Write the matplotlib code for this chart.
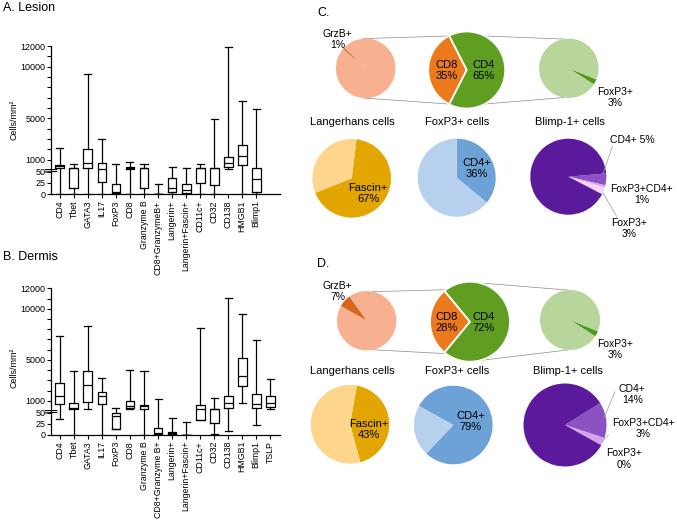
import numpy as np
import matplotlib
matplotlib.use('Agg')
import matplotlib.pyplot as plt
import matplotlib.transforms as mtransforms

plt.rcParams['font.family'] = ['Liberation Sans', 'DejaVu Sans']

# ---- box plot data, cells/mm2 (min, Q1, median, Q3, max) ----
lesion_labels = ['CD4', 'Tbet', 'GATA3', 'IL17', 'FoxP3', 'CD8', 'Granzyme B',
                 'CD8+GranzymeB+', 'Langerin+', 'Langerin+Fascin+', 'CD11c+',
                 'CD32', 'CD138', 'HMGB1', 'Blimp1']
lesion_min = [0, 0, 0, 0, 0, 0, 0, 0, 0, 0, 0, 1, 150, 0, 0]
lesion_q1 = [200, 13, 254, 27, 1.5, 92, 14, 0, 5, 1.5, 24, 20, 340, 470, 5]
lesion_med = [440, 170, 740, 125, 5, 200, 180, 0, 13, 9, 180, 240, 660, 1350, 33]
lesion_q3 = [520, 180, 2060, 680, 23, 290, 190, 0.5, 36, 23, 190, 250, 1240, 2400, 190]
lesion_max = [2130, 640, 9300, 3000, 580, 770, 640, 22, 285, 255, 640, 4950, 11950, 6700, 5900]

dermis_labels = ['CD4', 'Tbet', 'GATA3', 'IL17', 'FoxP3', 'CD8', 'Granzyme B',
                 'CD8+Granzyme B+', 'Langerin+', 'Langerin+Fascin+', 'CD11c+',
                 'CD32', 'CD138', 'HMGB1', 'Blimp1', 'TSLP']
dermis_min = [36, 0, 210, 0, 12, 178, 0, 0, 0, 0, 33, 1.5, 8.6, 800, 22.7, 243]
dermis_q1 = [674, 178, 902, 674, 12.5, 341, 210, 1.6, 1.6, 0, 33.6, 26.6, 341, 2470, 308, 406]
dermis_med = [1457, 308, 2600, 1457, 42, 537, 472, 4.7, 3, 0, 210, 170, 797, 3415, 700, 832]
dermis_q3 = [2795, 837, 3872, 1914, 50, 1000, 634, 14, 5.5, 0, 602, 178, 1490, 5145, 1718, 1457]
dermis_max = [7364, 3905, 8311, 3285, 350, 4055, 3924, 1229, 38, 28, 8083, 1294, 11019, 9453, 6940, 3121]

y_major = [0, 25, 50, 1000, 5000, 10000, 12000]
y_minor = [2000, 3000, 4000, 6000, 7000, 8000, 9000, 11000]

# ---- pie data, percent ----
les_grzb = [1, 99]
les_cd8_cd4 = [35, 65]
les_foxp3 = [3, 97]
les_fascin = [67, 33]
les_foxp3_cd4 = [36, 64]
les_blimp = [5, 1, 3, 91]

der_grzb = [7, 93]
der_cd8_cd4 = [28, 72]
der_foxp3 = [3, 97]
der_fascin = [43, 57]
der_foxp3_cd4 = [79, 21]
der_blimp = [14, 3, 0, 83]

# broken y axis: 0-50 stretched, gap, then linear up to 12000
KY = [-1000, 0, 50, 60, 12000, 24000]
KF = [-1340, 0, 67, 73, 441.9, 812.7]


def fwd(y):
    return np.interp(y, KY, KF)


def inv(f):
    return np.interp(f, KF, KY)


fig = plt.figure(figsize=(6.77, 5.25), dpi=100)
W, H = 677.0, 525.0


def box_panel(px, labels, mins, q1s, meds, q3s, maxs, ylab_y):
    left, top, right, bottom = px
    ax = fig.add_axes([left / W, 1 - bottom / H, (right - left) / W, (bottom - top) / H])
    ax.set_yscale('function', functions=(fwd, inv))
    stats = [dict(whislo=a, q1=b, med=c, q3=d, whishi=e, fliers=[])
             for a, b, c, d, e in zip(mins, q1s, meds, q3s, maxs)]
    lp = dict(color='black', linewidth=0.9)
    ax.bxp(stats, positions=range(len(stats)), widths=0.64, capwidths=0.5,
           showfliers=False, boxprops=lp, whiskerprops=lp, capprops=lp,
           medianprops=lp)
    ax.set_ylim(0, 12000)
    ax.set_xlim(-0.64, 15.71)
    ax.set_yticks(y_major)
    ax.set_yticklabels([str(v) for v in y_major])
    ax.set_yticks(y_minor, minor=True)
    ax.set_xticks(range(len(labels)))
    ax.set_xticklabels(labels, rotation=90, fontsize=6.3)
    ax.tick_params(axis='y', which='both', length=3, width=0.8, labelsize=6.5, pad=1)
    ax.tick_params(axis='x', length=3, width=0.8, pad=1.5)
    for s in ['top', 'right', 'left']:
        ax.spines[s].set_visible(False)
    ax.spines['bottom'].set_linewidth(0.9)
    # left spine in two pieces with break marks
    tr = mtransforms.blended_transform_factory(ax.transAxes, ax.transData)
    ax.plot([0, 0], [0, 50], color='black', lw=0.9, transform=tr, clip_on=False)
    ax.plot([0, 0], [60, 12000], color='black', lw=0.9, transform=tr, clip_on=False)
    ax.plot([-0.025, 0.025], [49, 50.5], color='black', lw=0.8, transform=tr, clip_on=False)
    ax.plot([-0.025, 0.025], [59.5, 62], color='black', lw=0.8, transform=tr, clip_on=False)
    ax.set_ylabel('Cells/mm²', fontsize=6.5)
    ax.yaxis.set_label_coords(-0.14, ylab_y)
    return ax


box_panel((51, 46, 280, 194), lesion_labels, lesion_min, lesion_q1, lesion_med,
          lesion_q3, lesion_max, 0.5)
box_panel((51, 288.3, 280, 434.7), dermis_labels, dermis_min, dermis_q1, dermis_med,
          dermis_q3, dermis_max, 0.46)

fig.text(3 / W, 1 - 8 / H, 'A. Lesion', fontsize=9, va='center')
fig.text(3 / W, 1 - 257 / H, 'B. Dermis', fontsize=9, va='center')

# ---- pies, drawn in pixel coordinates (y measured from the top) ----
ax = fig.add_axes([300 / W, 0, 377 / W, 1])

salmon, grzb_c = '#F8B190', '#D8661A'
orange, green = '#EC7A1C', '#5F9E20'
lgreen, dgreen = '#B8D59B', '#4F9A1C'
lyellow, gold = '#FED58C', '#E3A600'
lblue, blue = '#B6D0EE', '#6CA2D5'
purples = ['#8C52C3', '#D6A4EA', '#F6D6F6', '#5B1A9B']


def pie(vals, colors, cx, cy, r, start, edge=0):
    wp = dict(linewidth=edge, edgecolor='white')
    ax.pie(vals, colors=colors, center=(cx, H - cy), radius=r, startangle=start,
           counterclock=False, wedgeprops=wp, frame=False)


def txt(x, y, s, size=7.5, **kw):
    kw.setdefault('ha', 'center')
    ax.text(x, H - y, s, fontsize=size, va='center', linespacing=1.15, **kw)


def pt(cx, cy, r, ang):
    a = np.deg2rad(ang)
    return cx + r * np.cos(a), H - cy + r * np.sin(a)


def connect(c1, c2, a1, a2):
    x1, y1 = pt(*c1, a1)
    x2, y2 = pt(*c2, a2)
    ax.plot([x1, x2], [y1, y2], color='#8a8a8a', lw=0.5, zorder=0)


def leader(p1, p2):
    ax.plot([p1[0], p2[0]], [H - p1[1], H - p2[1]], color='#9a9a9a', lw=0.5)


def pie_row1(y0, grzb, cd8cd4, foxp3, lp, mp, rp, angs):
    pie(grzb, [grzb_c, salmon], *lp, 138 + grzb[0] * 1.8)
    pie(cd8cd4, [orange, green], *mp, 180 + cd8cd4[0] * 1.8, edge=1.3)
    pie(foxp3, [dgreen, lgreen], *rp, -22)
    connect(lp, mp, angs[0], angs[1])
    connect(lp, mp, -angs[0], -angs[1])
    connect(mp, rp, angs[2], angs[3])
    connect(mp, rp, -angs[2], -angs[3])
    txt(337.5, y0 - 29, 'GrzB+\n%d%%' % grzb[0])
    txt(447, y0 + 2, 'CD8\n%d%%' % cd8cd4[0], size=8)
    txt(483.5, y0 + 2, 'CD4\n%d%%' % cd8cd4[1], size=8)
    txt(615, y0 + 29, 'FoxP3+\n%d%%' % foxp3[0])


# C, first row
cC = [(365.7, 68.3, 29.8), (466.7, 70, 38.5), (568.8, 68.3, 29.7)]
pie_row1(68.3, les_grzb, les_cd8_cd4, les_foxp3, cC[0], cC[1], cC[2],
         (95, 118, 62, 100))
# D, first row
cD = [(366.7, 320.7, 29.7), (470, 321.7, 40), (570, 320, 30)]
pie_row1(320.7, der_grzb, der_cd8_cd4, der_foxp3, cD[0], cD[1], cD[2],
         (78, 127, 76, 94))

txt(317, 12.7, 'C.', size=9, ha='left')
txt(317, 264, 'D.', size=9, ha='left')

# C, second row
for x, t in [(352.7, 'Langerhans cells'), (457, 'FoxP3+ cells'), (570, 'Blimp-1+ cells')]:
    txt(x, 122.3, t, size=8)
pie(les_fascin, [gold, lyellow], 351.7, 178.3, 39.3, 83)
pie(les_foxp3_cd4, [blue, lblue], 456.7, 177.7, 39, 90)
pie(les_blimp, purples, 568.3, 176.7, 38, 5)
txt(368, 193.3, 'Fascin+\n%d%%' % les_fascin[0], size=8)
txt(477, 168.7, 'CD4+\n%d%%' % les_foxp3_cd4[0], size=8)
txt(632, 140, 'CD4+ %d%%' % les_blimp[0])
txt(641.7, 194.2, 'FoxP3+CD4+\n%d%%' % les_blimp[1])
txt(629, 228.3, 'FoxP3+\n%d%%' % les_blimp[2])
leader((612.5, 146), (603, 174))
leader((603, 193), (617, 217))

# D, second row
for x, t in [(352, 'Langerhans cells'), (457, 'FoxP3+ cells'), (568, 'Blimp-1+ cells')]:
    txt(x, 371, t, size=8)
pie(der_fascin, [gold, lyellow], 350, 424.3, 39.3, 80)
pie(der_foxp3_cd4, [blue, lblue], 453.3, 425, 39.3, 151)
pie(der_blimp, purples, 565, 425, 41.5, 32)
txt(369.3, 429.7, 'Fascin+\n%d%%' % der_fascin[0], size=8)
txt(470.7, 421.7, 'CD4+\n%d%%' % der_foxp3_cd4[0], size=8)
txt(632.3, 394.3, 'CD4+\n%d%%' % der_blimp[0])
txt(643, 428.7, 'FoxP3+CD4+\n%d%%' % der_blimp[1])
txt(624, 459, 'FoxP3+\n%d%%' % der_blimp[2])
leader((615, 391.7), (604, 418))
leader((608.5, 435), (602, 441.5))

ax.set_xlim(300, 677)
ax.set_ylim(0, H)
ax.set_aspect('equal')
ax.axis('off')

fig.savefig('out.png', dpi=100)
